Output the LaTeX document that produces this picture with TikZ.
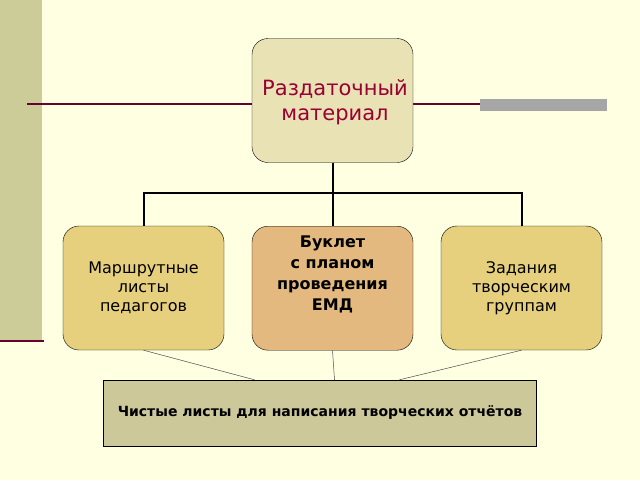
\documentclass[tikz,border=0pt]{standalone}
\usepackage{fontspec}
\setmainfont{DejaVu Sans}
\usetikzlibrary{positioning}
\definecolor{bgyellow}{HTML}{FFFFE1}
\definecolor{olivebar}{HTML}{CCCC99}
\definecolor{topfill}{HTML}{E8E2B4}
\definecolor{sidefill}{HTML}{E6D07E}
\definecolor{midfill}{HTML}{E4B97F}
\definecolor{bottomfill}{HTML}{CCC899}
\definecolor{titlered}{HTML}{990033}
\definecolor{linepurple}{HTML}{660033}
\begin{document}
\begin{tikzpicture}[x=1pt, y=-1pt]
    \tikzstyle{block}  = [rectangle, draw, rounded corners=16pt, minimum width=161pt, minimum height=124pt, text width=150pt, align=center, font=\fontsize{16}{19}\selectfont]
    \tikzstyle{tree}   = [draw, line width=2pt]
    \tikzstyle{thin}   = [draw, line width=0.5pt, black!70]

    % background
    \fill [bgyellow] (0,0) rectangle (640,480);
    \useasboundingbox (0,0) rectangle (640,480);
    \fill [olivebar] (0,0) rectangle (42,340);
    \draw [linepurple, line width=2pt] (0,341) -- (44,341);
    \draw [linepurple, line width=1.5pt] (27,104) -- (480,104);
    \fill [black!35] (480,99) rectangle (607,111);

    % Place nodes
    \node [block, fill=topfill] (handout) at (332.5,100.5) {};
    \node [text=titlered, font=\fontsize{21}{25}\selectfont, align=center] (handoutText) at (335,102) {Раздаточный\\материал};
    \node [block, fill=sidefill] (routes) at (143.5,288) {Маршрутные\\листы\\педагогов};
    \node [block, fill=midfill, anchor=north, text depth=0pt] (booklet) at (332.5,226) {};
    \node [font=\fontsize{16}{21}\selectfont\bfseries, align=center, anchor=north] (bookletText) at (332.5,232) {Буклет\\с планом\\проведения\\ЕМД};
    \node [block, fill=sidefill] (tasks) at (521.5,288) {Задания\\творческим\\группам};
    \node [rectangle, draw, fill=bottomfill, minimum width=433pt, minimum height=66pt] (sheets) at (319.5,413) {};
    \node [font=\fontsize{14}{17}\selectfont\bfseries] (sheetsText) at (320,413) {Чистые листы для написания творческих отчётов};

    % Connectors
    \path [tree] (handout.south) -- ++(0,30) -| (routes.north);
    \path [tree] (handout.south) -- ++(0,30) -| (tasks.north);
    \path [tree] (handout.south) -- (booklet.north);
    \path [thin] (routes.south) -- ([xshift=-65pt]sheets.north);
    \path [thin] (booklet.south) -- ([xshift=15pt]sheets.north);
    \path [thin] (tasks.south) -- ([xshift=80pt]sheets.north);
\end{tikzpicture}
\end{document}
